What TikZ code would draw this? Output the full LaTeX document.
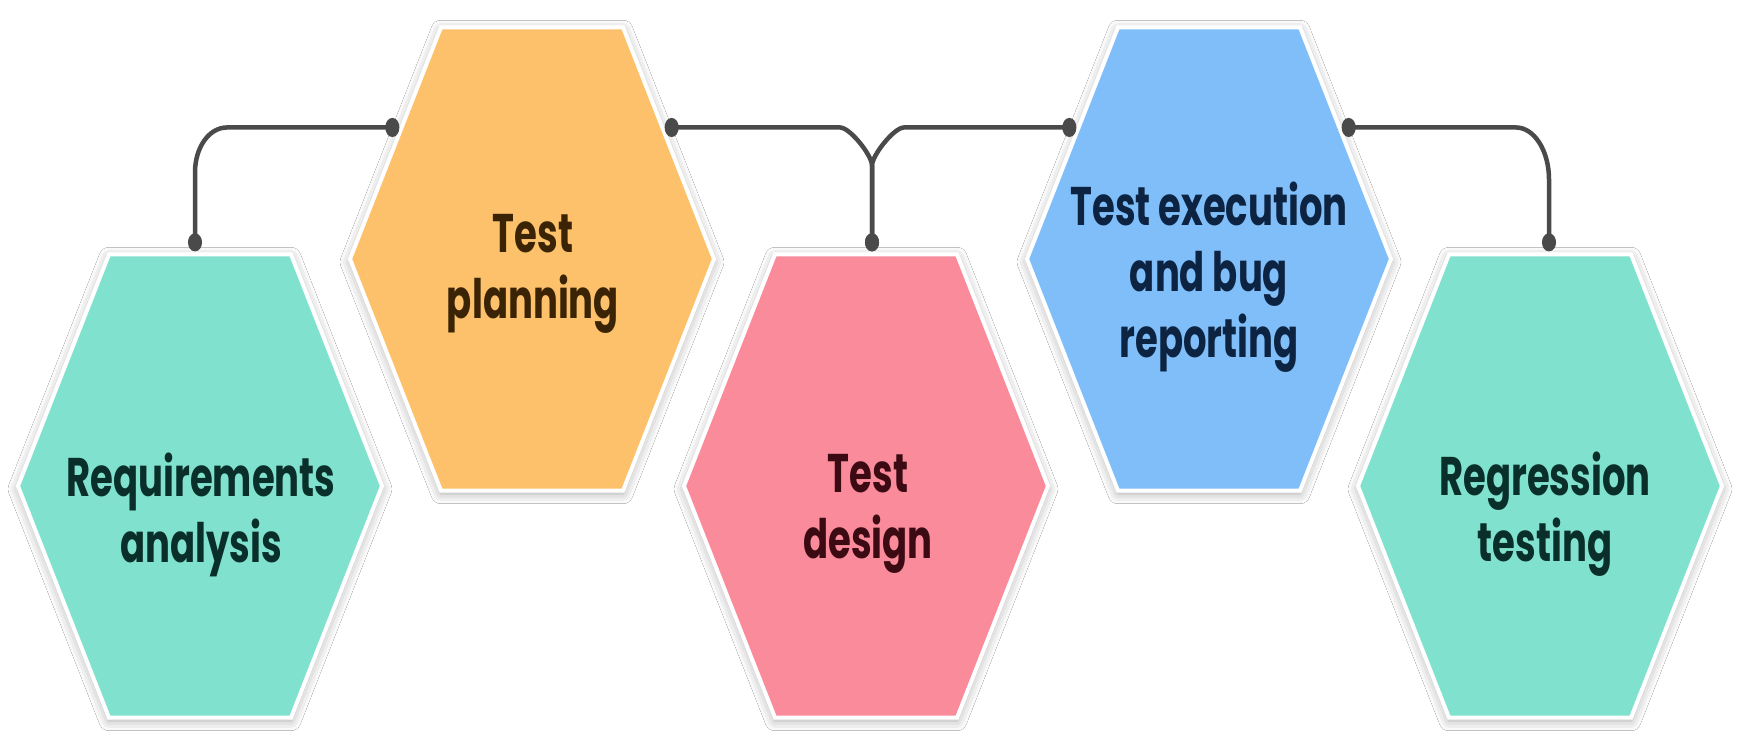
\documentclass[tikz,border=0pt]{standalone}
\usepackage{fontspec}
\newfontfamily\hexfont{Poppins}
\usetikzlibrary{shapes.geometric,arrows.meta,calc,shadows.blur}
\definecolor{tealfill}{HTML}{80E2CE}
\definecolor{orangefill}{HTML}{FCC16A}
\definecolor{pinkfill}{HTML}{FA8B9B}
\definecolor{bluefill}{HTML}{80BEF9}
\definecolor{tealtext}{HTML}{0A2F2A}
\definecolor{orangetext}{HTML}{3A2405}
\definecolor{pinktext}{HTML}{3B0A12}
\definecolor{bluetext}{HTML}{0C2442}
\definecolor{conncol}{HTML}{4A4A4A}
\begin{document}
\begin{tikzpicture}[x=1pt,y=-1pt,
  hexbox/.style={regular polygon, regular polygon sides=6, minimum size=364pt,
    inner sep=0pt, draw=white, line width=4pt, yscale=1.47,
    blur shadow={shadow blur radius=10pt, shadow xshift=0pt, shadow yshift=-3pt, shadow opacity=35}},
  hextext/.style={font=\hexfont\bfseries\fontsize{37}{45}\selectfont, align=center,
    yscale=1.47, inner sep=0pt},
  conn/.style={draw=conncol, line width=4.5pt,
    {Circle[length=18pt,width=14pt]}-{Circle[length=14pt,width=19pt]}},
]
\useasboundingbox (0,0) rectangle (1745,752);
\fill[white] (0,0) rectangle (1745,752);

\node[hexbox, fill=tealfill]   (h1) at (200,486)  {};
\node[hexbox, fill=orangefill] (h2) at (532,259)  {};
\node[hexbox, fill=pinkfill]   (h3) at (866,486)  {};
\node[hexbox, fill=bluefill]   (h4) at (1209,259) {};
\node[hexbox, fill=tealfill]   (h5) at (1540,486) {};

\node[hextext, text=tealtext]   (t1) at (201,515)  {Requirements\\analysis};
\node[hextext, text=orangetext] (t2) at (533,274)  {Test\\planning};
\node[hextext, text=pinktext]   (t3) at (868,514)  {Test\\design};
\node[hextext, text=bluetext]   (t4) at (1209,277) {Test execution\\and bug\\reporting};
\node[hextext, text=tealtext]   (t5) at (1545,514) {Regression\\testing};

% Requirements analysis -> Test planning
\coordinate (s1) at ([xshift=-5pt]h1.north);
\coordinate (k1) at (s1 |- h2.146);
\draw[conn] (s1) -- ($(k1)+(0,45)$) .. controls +(0,-25) and +(-18,0) .. ($(k1)+(32,0)$) -- (h2.146);

% Test design -> Test planning / Test execution
\coordinate (s3) at ([xshift=6pt]h3.north);
\coordinate (k3) at (s3 |- h2.34);
\draw[conn] (s3) -- ($(k3)+(0,38)$) .. controls +(0,-10) and +(10,0) .. ($(k3)+(-32,0)$) -- (h2.34);
\draw[conn] (s3) -- ($(k3)+(0,38)$) .. controls +(0,-10) and +(-10,0) .. ($(k3)+(32,0)$) -- (h4.146);

% Regression testing -> Test execution
\coordinate (s5) at ([xshift=9pt]h5.north);
\coordinate (k5) at (s5 |- h4.34);
\draw[conn] (s5) -- ($(k5)+(0,52)$) .. controls +(0,-29) and +(18,0) .. ($(k5)+(-33,0)$) -- (h4.34);
\end{tikzpicture}
\end{document}
